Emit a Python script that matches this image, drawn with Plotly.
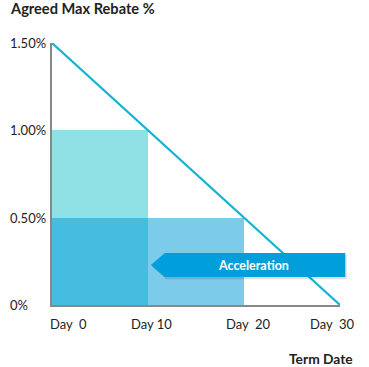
import plotly.graph_objects as go

# ---- data ----
box_start = [0, 0, 10]
box_end = [10, 10, 20]
box_low = [0.5, 0.0, 0.0]
box_high = [1.0, 0.5, 0.5]
box_colors = ["#8FE1E5", "#44BDE0", "#7CCBEA"]

line_days = [0, 30]
line_rebate = [1.5, 0.0]

x_tick_vals = [0, 10, 20, 30]
x_tick_text = ["Day  0", "Day 10", "Day  20", "Day  30"]
y_tick_vals = [0, 0.5, 1.0, 1.5]
y_tick_text = ["0%", "0.50%", "1.00%", "1.50%"]

arrow_label = "Acceleration"

FONT = "Lato, 'Open Sans', sans-serif"
W, H = 369, 367
l, r, t, b = 52, 29, 43, 62
pw, ph = W - l - r, H - t - b
X_MAX = 30

fig = go.Figure()

for s, e, lo, hi, c in zip(box_start, box_end, box_low, box_high, box_colors):
    fig.add_trace(go.Bar(
        x=[(s + e) / 2], y=[hi - lo], base=[lo], width=[e - s],
        marker=dict(color=c, line=dict(width=0)), showlegend=False,
        hoverinfo="skip"))

fig.add_trace(go.Scatter(
    x=line_days, y=line_rebate, mode="lines",
    line=dict(color="#16B4D3", width=2.2), showlegend=False, hoverinfo="skip"))

# arrow shape (left pointing); x in paper fraction so it can overhang the plot edge
ax0, ax1, notch = 10.3 / X_MAX, 30.55 / X_MAX, 1.45 / X_MAX
ylo, yhi = 0.16, 0.298
ymid = (ylo + yhi) / 2
dx, dy = 0.005, 0.012
path = (f"M {ax0},{ymid} L {ax0+notch},{yhi} L {ax1},{yhi} "
        f"L {ax1},{ylo} L {ax0+notch},{ylo} Z")
shadow = (f"M {ax0+dx},{ymid-dy} L {ax0+notch+dx},{yhi-dy} L {ax1+dx},{yhi-dy} "
          f"L {ax1+dx},{ylo-dy} L {ax0+notch+dx},{ylo-dy} Z")
fig.add_shape(type="path", path=shadow, xref="paper", yref="y",
              fillcolor="rgba(0,0,0,0.12)", line=dict(width=0), layer="above")
fig.add_shape(type="path", path=path, xref="paper", yref="y",
              fillcolor="#009FDB", line=dict(width=0), layer="above")
fig.add_annotation(x=(253 - l) / pw, y=ymid, xref="paper", yref="y",
                   xanchor="center", yanchor="middle",
                   text=f"<b>{arrow_label}</b>", showarrow=False,
                   font=dict(family=FONT, size=12.5, color="white"))

# y tick labels (left-aligned)
for v, tt in zip(y_tick_vals, y_tick_text):
    fig.add_annotation(x=(8 - l) / pw, xref="paper", y=v, yref="y", text=tt,
                       showarrow=False, xanchor="left", yanchor="middle",
                       font=dict(family=FONT, size=13, color="#222"))

# x tick labels
x_shifts = [16, 3, 4, -8]
for v, tt, sh in zip(x_tick_vals, x_tick_text, x_shifts):
    fig.add_annotation(x=v, xref="x", y=0, yref="y", text=tt, showarrow=False,
                       xanchor="center", yanchor="middle", xshift=sh, yshift=-19,
                       font=dict(family=FONT, size=13, color="#222"))

fig.add_annotation(x=(8 - l) / pw, y=(H - 9 - b) / ph, xref="paper", yref="paper",
                   text="<b>Agreed Max Rebate %</b>", showarrow=False,
                   xanchor="left", yanchor="middle",
                   font=dict(family=FONT, size=14.6, color="#222"))
fig.add_annotation(x=(355 - l) / pw, y=(H - 358 - b) / ph, xref="paper", yref="paper",
                   text="<b>Term Date</b>", showarrow=False,
                   xanchor="right", yanchor="middle",
                   font=dict(family=FONT, size=13.8, color="#222"))

fig.update_layout(
    width=W, height=H,
    margin=dict(l=l, r=r, t=t, b=b),
    paper_bgcolor="white", plot_bgcolor="white",
    barmode="overlay", bargap=0,
    font=dict(family=FONT),
    xaxis=dict(range=[0, X_MAX], showgrid=False, zeroline=False, showticklabels=False,
               showline=True, linecolor="#888", linewidth=1.5, ticks="", fixedrange=True),
    yaxis=dict(range=[0, 1.5], showgrid=False, zeroline=False, showticklabels=False,
               showline=True, linecolor="#888", linewidth=1.5, ticks="", fixedrange=True),
)

fig.write_html("out.html", config={"displayModeBar": False},
               post_script="document.body.style.margin='0';document.body.style.overflow='hidden';")
